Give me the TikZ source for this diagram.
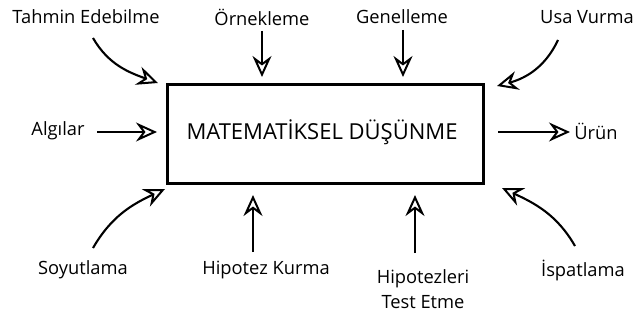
\documentclass[tikz,border=0pt]{standalone}
\usepackage{fontspec}
\setmainfont{Open Sans}
\usetikzlibrary{arrows.meta}
\begin{document}
\begin{tikzpicture}[x=1pt,y=-1pt,
  lbl/.style={font=\fontsize{18.3}{22}\selectfont, inner sep=0pt, align=center},
  arr/.style={line width=2.1pt, -{Stealth[open, length=21pt, width=19pt, inset=7pt, line width=2pt]}},
  mainbox/.style={draw, line width=3pt, minimum width=316pt, minimum height=98pt, inner sep=0pt}]
\useasboundingbox (0,0) rectangle (635,321);
\node[mainbox] (box) at (325,134) {};
\node[font=\fontsize{22}{26}\selectfont, inner sep=0pt] (title) at (322,132) {MATEMATİKSEL DÜŞÜNME};
% labels
\node[lbl] (tahmin) at (86,17) {Tahmin Edebilme};
\node[lbl] (ornek) at (262,17) {Örnekleme};
\node[lbl] (genel) at (402,17) {Genelleme};
\node[lbl] (usa) at (587,17) {Usa Vurma};
\node[lbl] (algi) at (58,131) {Algılar};
\node[lbl] (urun) at (596,131) {Ürün};
\node[lbl] (soyut) at (83,270) {Soyutlama};
\node[lbl] (hipk) at (266,270) {Hipotez Kurma};
\node[lbl] (hipt) at (423,289) {Hipotezleri\\[3pt]Test Etme};
\node[lbl] (ispat) at (583,270) {İspatlama};
% coordinates
\coordinate (t1) at (93,38);   \coordinate (t2) at (158,83);
\coordinate (o1) at (262,31);  \coordinate (o2) at (262,77);
\coordinate (g1) at (403,30);  \coordinate (g2) at (403,77);
\coordinate (u1) at (558,40);  \coordinate (u2) at (497,86);
\coordinate (a1) at (97,132);  \coordinate (a2) at (157,132);
\coordinate (r1) at (498,132); \coordinate (r2) at (570,132);
\coordinate (s1) at (93,248);  \coordinate (s2) at (165,189);
\coordinate (h1) at (253,252); \coordinate (h2) at (253,195);
\coordinate (p1) at (415,253); \coordinate (p2) at (415,195);
\coordinate (i1) at (575,246); \coordinate (i2) at (502,188);
% connectors
\draw[arr] (t1) to[out=-60,in=160] (t2);
\draw[arr] (o1) -- (o2);
\draw[arr] (g1) -- (g2);
\draw[arr] (u1) to[out=-115,in=15] (u2);
\draw[arr] (a1) -- (a2);
\draw[arr] (r1) -- (r2);
\draw[arr] (s1) to[out=60,in=-155] (s2);
\draw[arr] (h1) -- (h2);
\draw[arr] (p1) -- (p2);
\draw[arr] (i1) to[out=120,in=-25] (i2);
\end{tikzpicture}
\end{document}
